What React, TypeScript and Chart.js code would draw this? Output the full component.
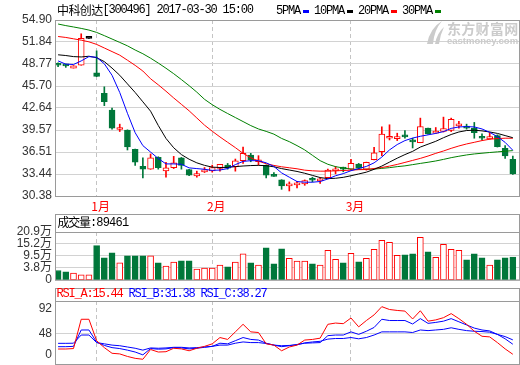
import React, { useEffect, useRef } from 'react';
import { Chart, registerables } from 'chart.js';

Chart.register(...registerables);

// ---------------- data ----------------
const STOCK_NAME = '中科创达';
const STOCK_CODE = '300496';
const QUOTE_TIME = '2017-03-30 15:00';

const OPEN = [48.65, 48.60, 48.20, 48.60, 52.34, 47.55, 44.70, 42.36, 39.65, 39.55, 36.88, 34.50, 34.12, 35.76, 33.89, 34.31, 35.71, 34.07, 33.18, 33.75, 33.89, 34.21, 34.68, 34.45, 35.29, 36.09, 35.15, 34.64, 33.16, 32.62, 31.78, 31.92, 32.06, 32.76, 32.48, 32.95, 33.89, 34.26, 34.12, 34.82, 34.12, 35.43, 36.55, 38.43, 38.38, 38.90, 38.10, 37.82, 39.83, 39.13, 39.36, 39.50, 40.16, 40.02, 39.83, 38.66, 38.33, 38.80, 37.02, 35.48];
const HIGH = [48.95, 48.75, 48.55, 52.98, 52.34, 50.60, 45.59, 42.64, 40.39, 39.60, 36.90, 35.71, 36.23, 35.85, 35.06, 35.90, 35.75, 34.10, 33.84, 34.35, 34.68, 34.80, 34.92, 35.53, 37.21, 36.32, 36.00, 34.70, 33.65, 32.65, 32.34, 32.44, 32.62, 33.00, 32.90, 34.12, 34.50, 34.40, 35.48, 34.92, 35.10, 37.16, 40.02, 40.30, 39.13, 39.50, 38.43, 41.23, 39.85, 39.92, 41.37, 41.23, 40.77, 40.39, 40.63, 39.03, 39.22, 38.90, 37.40, 35.95];
const LOW = [48.40, 48.30, 48.20, 48.60, 52.34, 47.00, 42.97, 39.69, 39.36, 36.79, 34.64, 32.90, 34.10, 34.12, 33.00, 34.20, 34.12, 33.20, 33.00, 33.65, 33.70, 33.84, 34.12, 33.84, 34.92, 35.15, 34.68, 32.90, 33.12, 31.31, 31.08, 31.50, 31.87, 32.34, 32.15, 32.95, 33.47, 33.75, 34.10, 34.12, 33.98, 35.40, 35.99, 38.19, 38.10, 38.43, 37.07, 37.80, 39.00, 39.10, 39.30, 39.36, 39.83, 39.69, 38.43, 38.19, 38.30, 37.20, 35.62, 33.37];
const CLOSE = [48.60, 48.50, 48.50, 52.34, 52.34, 47.04, 43.53, 39.83, 39.72, 37.21, 35.10, 34.12, 35.71, 34.31, 34.31, 35.01, 34.64, 33.28, 33.51, 33.98, 34.35, 34.78, 34.26, 35.29, 36.32, 35.39, 35.39, 33.28, 33.12, 31.78, 31.97, 32.15, 32.53, 32.58, 32.62, 33.98, 34.12, 34.12, 34.92, 34.26, 35.06, 36.41, 38.99, 38.57, 38.52, 38.61, 37.91, 40.06, 39.03, 39.36, 39.78, 41.05, 40.30, 39.83, 39.22, 38.43, 38.66, 37.26, 35.95, 33.47];

const MA5 = [49.2, 48.75, 48.7, 49.2, 49.8, 49.7, 48.8, 47.2, 44.8, 41.9, 39.2, 37.4, 36.5, 35.6, 34.85, 34.85, 34.8, 34.3, 34.2, 34.1, 33.95, 34.0, 34.2, 34.75, 35.2, 35.3, 35.3, 35.0, 34.5, 33.6, 33.0, 32.4, 32.3, 32.3, 32.4, 32.75, 33.2, 33.5, 33.9, 34.2, 34.5, 35.0, 35.8, 36.8, 37.55, 38.1, 38.45, 38.7, 38.9, 39.1, 39.35, 39.8, 40.0, 40.05, 40.0, 39.72, 39.25, 38.65, 37.85, 36.75];
const MA10 = [50.05, 49.95, 49.8, 49.75, 49.85, 49.65, 49.1, 48.2, 47.2, 46.0, 44.8, 43.5, 42.2, 40.2, 38.4, 37.1, 36.15, 35.5, 35.0, 34.65, 34.4, 34.35, 34.37, 34.47, 34.56, 34.62, 34.65, 34.6, 34.45, 34.2, 34.0, 33.8, 33.55, 33.25, 32.95, 32.8, 32.85, 32.98, 33.2, 33.45, 33.7, 34.1, 34.55, 35.1, 35.65, 36.15, 36.6, 37.2, 37.6, 38.0, 38.5, 38.95, 39.3, 39.5, 39.55, 39.45, 39.3, 39.1, 38.8, 38.5];
const MA20 = [52.6, 52.47, 52.28, 52.09, 51.86, 51.5, 51.0, 50.5, 50.0, 49.3, 48.58, 47.79, 46.71, 45.87, 44.98, 44.04, 43.15, 42.25, 41.25, 40.25, 39.4, 38.61, 37.86, 37.12, 36.32, 35.71, 35.24, 34.87, 34.64, 34.45, 34.31, 34.17, 33.98, 33.89, 33.84, 33.84, 33.89, 33.93, 33.98, 34.05, 34.07, 34.21, 34.35, 34.54, 34.78, 35.06, 35.34, 35.62, 35.95, 36.32, 36.65, 37.02, 37.35, 37.63, 37.86, 38.1, 38.29, 38.38, 38.43, 38.43];
const MA30 = [54.34, 54.12, 53.93, 53.73, 53.5, 53.17, 52.72, 52.25, 51.78, 51.3, 50.72, 50.2, 49.58, 48.9, 48.18, 47.42, 46.6, 45.75, 44.85, 43.85, 43.1, 42.45, 41.87, 41.31, 40.75, 40.19, 39.72, 39.38, 39.0, 38.4, 37.95, 37.4, 36.8, 36.05, 35.3, 34.8, 34.47, 34.28, 34.13, 34.09, 34.09, 34.13, 34.23, 34.33, 34.47, 34.58, 34.75, 34.92, 35.08, 35.26, 35.48, 35.72, 35.92, 36.1, 36.24, 36.34, 36.44, 36.53, 36.62, 36.7];

// volume in 万 (10k shares)
const VOLUME = [2.52, 1.9, 1.27, 0.48, 0.48, 14.4, 8.55, 10.93, 6.18, 9.5, 9.5, 9.5, 9.5, 6.18, 4.6, 6.5, 7.13, 7.13, 3.17, 3.64, 3.64, 5.07, 4.28, 6.5, 10.45, 6.18, 5.07, 13.3, 5.7, 12.83, 8.4, 6.97, 6.97, 5.7, 5.07, 12.2, 7.92, 6.18, 10.77, 6.65, 8.4, 12.67, 16.94, 16.0, 9.82, 9.98, 10.45, 18.37, 11.4, 8.87, 15.04, 12.67, 12.2, 7.6, 10.45, 8.55, 5.07, 7.6, 8.55, 8.9461];
const VOL_LAST = 89461;

const RSI_A = [23.8, 23.8, 24.5, 71, 71, 37, 26, 17, 16, 12, 9, 7.5, 23, 19, 19.5, 25, 24, 21, 25, 28, 32, 42, 39, 51, 63, 51, 50, 32, 30, 21, 27, 30, 38, 39, 41, 63, 65, 64, 73, 59, 69, 78, 91, 86.5, 85, 84, 71.5, 84.5, 68, 70, 73.5, 80, 72, 63, 52, 44, 43, 34, 24, 15.44];
const RSI_B = [27.5, 27.5, 28, 54, 54, 34.5, 29.5, 26, 24.5, 22, 19, 14.5, 24.5, 23.5, 24, 26, 25.5, 24, 25, 26.5, 28, 33, 32, 37, 42, 39, 38, 33, 30, 27.5, 29, 31, 33, 33.5, 34, 45, 46, 46, 51, 47, 52, 58, 71, 69, 69, 69, 63.5, 72, 64.5, 66, 68, 72, 67, 62, 57, 54, 52.5, 47, 40, 31.38];
const RSI_C = [32.8, 32.8, 33, 46, 46, 34, 32, 30, 29, 27, 25, 22, 25.5, 25, 25.5, 26.5, 26.5, 25.5, 26, 27, 28, 30, 30, 33, 35, 34, 34, 32.5, 30, 29, 29.5, 30.5, 33.5, 35, 36, 39.5, 40.5, 40.5, 42, 40, 42, 46, 51, 51, 51, 51, 50, 54, 53, 54, 55, 57.5, 55, 53, 52, 51.5, 50.5, 47, 43.5, 38.27];

const PRICE_TICKS = [30.38, 33.44, 36.51, 39.57, 42.64, 45.70, 48.77, 51.84, 54.90];
const VOL_TICKS = [-1.9, 3.8, 9.5, 15.2, 20.9];
const VOL_TICK_LABELS = ['0', '3.8万', '9.5万', '15.2万', '20.9万'];
const RSI_TICKS = [0, 48, 92];
const RSI_GRID = [48];
const MONTH_IDX = [5, 20, 38];
const MONTH_LABELS = ['1月', '2月', '3月'];
const MA_NAMES = ['5PMA', '10PMA', '20PMA', '30PMA'];

// ---------------- styles ----------------
const RED = '#ff0000';
const DOWN = '#00773a';
const BLUE = '#0000ff';
const BLACK = '#000000';
const MA30C = '#008000';
const MA_COLORS = [BLUE, BLACK, RED, MA30C];
const GRID = '#d2d2d2';
const VGRID = '#c4c4c4';
const FRAME = '#9a9a9a';
const LABEL = '#333333';
const SANS = '"Liberation Sans", "Noto Sans CJK SC", sans-serif';
const MONO = '12px "Liberation Mono", monospace';
const CJK12 = '12px "Noto Sans CJK SC", sans-serif';
const X_MIN = -0.4;
const X_MAX = 59.8;

const idx = CLOSE.map((_, i) => i);
const isUp = (i: number) => CLOSE[i] > OPEN[i];
const isFlat = (i: number) => CLOSE[i] === OPEN[i];
const candleStroke = idx.map((i) => (isUp(i) ? RED : isFlat(i) ? (HIGH[i] === LOW[i] ? BLACK : RED) : DOWN));
const candleFill = idx.map((i) => (isUp(i) ? '#ffffff' : candleStroke[i]));
const volStroke = idx.map((i) => (CLOSE[i] >= OPEN[i] ? RED : DOWN));
const volFill = idx.map((i) => (CLOSE[i] >= OPEN[i] ? '#ffffff' : DOWN));

type Seg = { t?: string; font?: string; ls?: string; color: string; rect?: [number, number]; gap?: number };

function drawSegs(ctx: CanvasRenderingContext2D, x0: number, y: number, segs: Seg[]) {
  let x = x0;
  ctx.save();
  ctx.textBaseline = 'middle';
  ctx.textAlign = 'left';
  for (const s of segs) {
    if (s.rect) {
      ctx.fillStyle = s.color;
      ctx.fillRect(Math.round(x), Math.round(y - s.rect[1] / 2), s.rect[0], s.rect[1]);
      x += s.rect[0];
    } else if (s.t) {
      ctx.font = s.font || MONO;
      (ctx as any).letterSpacing = s.ls || '0px';
      ctx.fillStyle = s.color;
      ctx.fillText(s.t, x, y);
      x += ctx.measureText(s.t).width;
    }
    x += s.gap || 0;
  }
  (ctx as any).letterSpacing = '0px';
  ctx.restore();
}

function framePlugin(headerH: number, extra?: (ctx: CanvasRenderingContext2D, chart: any) => void) {
  return {
    id: 'frameDeco',
    afterDraw(chart: any) {
      const ctx = chart.ctx as CanvasRenderingContext2D;
      const a = chart.chartArea;
      ctx.save();
      ctx.strokeStyle = FRAME;
      ctx.lineWidth = 1;
      ctx.strokeRect(a.left + 0.5, a.top + 0.5, a.right - a.left, a.bottom - a.top);
      if (headerH) ctx.strokeRect(a.left + 0.5, a.top - headerH + 0.5, a.right - a.left, headerH);
      ctx.restore();
      if (extra) extra(ctx, chart);
    },
  };
}

function xScale(showLabels: boolean, h: number): any {
  return {
    type: 'linear',
    min: X_MIN,
    max: X_MAX,
    offset: false,
    afterBuildTicks: (s: any) => {
      s.ticks = MONTH_IDX.map((v) => ({ value: v }));
    },
    afterFit: (s: any) => {
      s.height = h;
    },
    grid: { color: VGRID, lineWidth: 1, drawTicks: false, offset: false },
    border: { display: false, dash: [4, 3] },
    ticks: {
      display: showLabels,
      autoSkip: false,
      maxRotation: 0,
      padding: 3,
      labelOffset: 4,
      color: RED,
      font: { family: '"Noto Sans CJK SC", sans-serif', size: 12 },
      callback: (v: any) => {
        const k = MONTH_IDX.indexOf(Number(v));
        return k >= 0 ? MONTH_LABELS[k] : '';
      },
    },
  };
}

function yBase(min: number, max: number, ticks: number[], labels: ((v: number, i: number) => string) | null): any {
  return {
    type: 'linear',
    min,
    max,
    afterBuildTicks: (s: any) => {
      s.ticks = ticks.map((v) => ({ value: v }));
    },
    afterFit: (s: any) => {
      s.width = 55;
    },
    grid: { color: GRID, lineWidth: 1, drawTicks: false },
    border: { display: false },
    ticks: {
      display: !!labels,
      autoSkip: false,
      padding: 3,
      color: LABEL,
      font: { family: SANS, size: 12 },
      callback: (v: any, i: number) => (labels ? labels(Number(v), i) : ''),
    },
  };
}

function makeMain(canvas: HTMLCanvasElement) {
  const lineDs = [MA5, MA10, MA20, MA30].map((arr, k) => ({
    type: 'line' as const,
    label: MA_NAMES[k],
    data: arr.map((y, i) => ({ x: i, y })),
    borderColor: MA_COLORS[k],
    borderWidth: 1,
    pointRadius: 0,
    tension: 0,
    order: 0,
  }));
  const titleDeco = (ctx: CanvasRenderingContext2D, chart: any) => {
    drawSegs(ctx, 57, 10, [
      { t: STOCK_NAME, font: CJK12, ls: '-0.6px', color: '#000' },
      { t: `[${STOCK_CODE}] ${QUOTE_TIME}`, font: MONO, ls: '-1.2px', color: '#000' },
    ]);
    const segs: Seg[] = [];
    MA_NAMES.forEach((n, k) => {
      segs.push({ t: n, font: MONO, ls: '-1.2px', color: '#000', gap: 3 });
      segs.push({ rect: [6, 3], color: MA_COLORS[k], gap: 5 });
    });
    drawSegs(ctx, 276, 11, segs);
  };
  const watermark = {
    id: 'watermark',
    beforeDatasetsDraw(chart: any) {
      const ctx = chart.ctx as CanvasRenderingContext2D;
      ctx.save();
      ctx.fillStyle = '#cbcbcb';
      ctx.textBaseline = 'middle';
      ctx.textAlign = 'left';
      ctx.font = 'bold 14px "Noto Sans CJK SC", sans-serif';
      (ctx as any).letterSpacing = '0.3px';
      ctx.fillText('东方财富网', 447, 29);
      ctx.font = 'bold 9.5px "Liberation Sans", sans-serif';
      (ctx as any).letterSpacing = '0px';
      ctx.fillText('eastmoney.com', 447, 41);
      // swoosh logo
      ctx.beginPath();
      ctx.moveTo(427, 44);
      ctx.quadraticCurveTo(430, 28, 442, 21);
      ctx.quadraticCurveTo(434, 30, 433, 44);
      ctx.closePath();
      ctx.fill();
      ctx.beginPath();
      ctx.moveTo(435, 44);
      ctx.quadraticCurveTo(437, 33, 444, 27);
      ctx.quadraticCurveTo(440, 35, 439, 44);
      ctx.closePath();
      ctx.fill();
      ctx.restore();
    },
  };
  return new Chart(canvas, {
    type: 'bar',
    data: {
      datasets: [
        ...lineDs,
        {
          type: 'bar',
          label: 'body',
          data: idx.map((i) => ({ x: i, y: [OPEN[i], CLOSE[i]] })),
          backgroundColor: candleFill,
          borderColor: candleStroke,
          borderWidth: 1,
          borderSkipped: false,
          barThickness: 6,
          minBarLength: 2,
          grouped: false,
          order: 1,
        } as any,
        {
          type: 'bar',
          label: 'wick',
          data: idx.map((i) => ({ x: i, y: [LOW[i], HIGH[i]] })),
          backgroundColor: candleStroke,
          borderWidth: 0,
          barThickness: 1,
          grouped: false,
          order: 2,
        } as any,
      ],
    },
    options: {
      responsive: false,
      animation: false,
      events: [],
      layout: { padding: { top: 20, right: 1, left: 0, bottom: 0 } },
      plugins: { legend: { display: false }, tooltip: { enabled: false } },
      scales: {
        x: xScale(true, 18),
        y: yBase(PRICE_TICKS[0], PRICE_TICKS[PRICE_TICKS.length - 1], PRICE_TICKS, (v) => v.toFixed(2)),
      },
    } as any,
    plugins: [watermark, framePlugin(0, titleDeco)],
  });
}

function makeVol(canvas: HTMLCanvasElement) {
  const header = (ctx: CanvasRenderingContext2D) => {
    drawSegs(ctx, 57.5, 222.5 - 205, [
      { t: '成交量', font: CJK12, ls: '-1.2px', color: '#000' },
      { t: `:${VOL_LAST}`, font: MONO, ls: '-0.8px', color: '#000' },
    ]);
  };
  return new Chart(canvas, {
    type: 'bar',
    data: {
      datasets: [
        {
          label: 'vol',
          data: idx.map((i) => ({ x: i, y: [VOL_TICKS[0], VOLUME[i]] })),
          backgroundColor: volFill,
          borderColor: volStroke,
          borderWidth: 1,
          borderSkipped: false,
          barThickness: 6,
          grouped: false,
        } as any,
      ],
    },
    options: {
      responsive: false,
      animation: false,
      events: [],
      layout: { padding: { top: 27, right: 1, left: 0, bottom: 0 } },
      plugins: { legend: { display: false }, tooltip: { enabled: false } },
      scales: {
        x: xScale(false, 10),
        y: yBase(VOL_TICKS[0], VOL_TICKS[VOL_TICKS.length - 1], VOL_TICKS, (_v, i) => VOL_TICK_LABELS[i]),
      },
    } as any,
    plugins: [framePlugin(18, header)],
  });
}

function makeRsi(canvas: HTMLCanvasElement) {
  const header = (ctx: CanvasRenderingContext2D, chart: any) => {
    const n = RSI_A.length - 1;
    drawSegs(ctx, 56.5, 293.5 - 286, [
      { t: `RSI_A:${RSI_A[n].toFixed(2)} `, font: MONO, ls: '-1.2px', color: RED },
      { t: `RSI_B:${RSI_B[n].toFixed(2)} `, font: MONO, ls: '-1.2px', color: BLUE },
      { t: `RSI_C:${RSI_C[n].toFixed(2)}`, font: MONO, ls: '-1.2px', color: BLUE },
    ]);
    const ys = chart.scales.y;
    const a = chart.chartArea;
    ctx.save();
    ctx.font = `12px ${SANS}`;
    ctx.fillStyle = LABEL;
    ctx.textAlign = 'right';
    ctx.textBaseline = 'middle';
    RSI_TICKS.forEach((v) => {
      const p = Math.min(Math.max(ys.getPixelForValue(v), a.top + 8), a.bottom - 9);
      ctx.fillText(String(v), a.left - 3, p);
    });
    ctx.restore();
  };
  const mk = (arr: number[], color: string, label: string) => ({
    label,
    data: arr.map((y, i) => ({ x: i, y })),
    borderColor: color,
    borderWidth: 1,
    pointRadius: 0,
    tension: 0,
  });
  return new Chart(canvas, {
    type: 'line',
    data: {
      datasets: [mk(RSI_A, RED, 'RSI_A'), mk(RSI_B, BLUE, 'RSI_B'), mk(RSI_C, BLUE, 'RSI_C')],
    },
    options: {
      responsive: false,
      animation: false,
      events: [],
      layout: { padding: { top: 15, right: 1, left: 0, bottom: 0 } },
      plugins: { legend: { display: false }, tooltip: { enabled: false } },
      scales: {
        x: xScale(false, 1),
        y: yBase(0, 100, RSI_GRID, null),
      },
    } as any,
    plugins: [framePlugin(13, header)],
  });
}

export default function App() {
  const mainRef = useRef<HTMLCanvasElement>(null);
  const volRef = useRef<HTMLCanvasElement>(null);
  const rsiRef = useRef<HTMLCanvasElement>(null);
  useEffect(() => {
    const charts = [makeMain(mainRef.current!), makeVol(volRef.current!), makeRsi(rsiRef.current!)];
    return () => charts.forEach((c) => c.destroy());
  }, []);
  const cs = (top: number, h: number): React.CSSProperties => ({ position: 'absolute', left: 0, top, width: 520, height: h });
  return (
    <div style={{ position: 'absolute', left: 0, top: 0, width: 520, height: 365, background: '#ffffff', overflow: 'hidden' }}>
      <canvas ref={mainRef} width={520} height={214} style={cs(0, 214)} />
      <canvas ref={volRef} width={520} height={85} style={cs(205, 85)} />
      <canvas ref={rsiRef} width={520} height={79} style={cs(286, 79)} />
    </div>
  );
}
